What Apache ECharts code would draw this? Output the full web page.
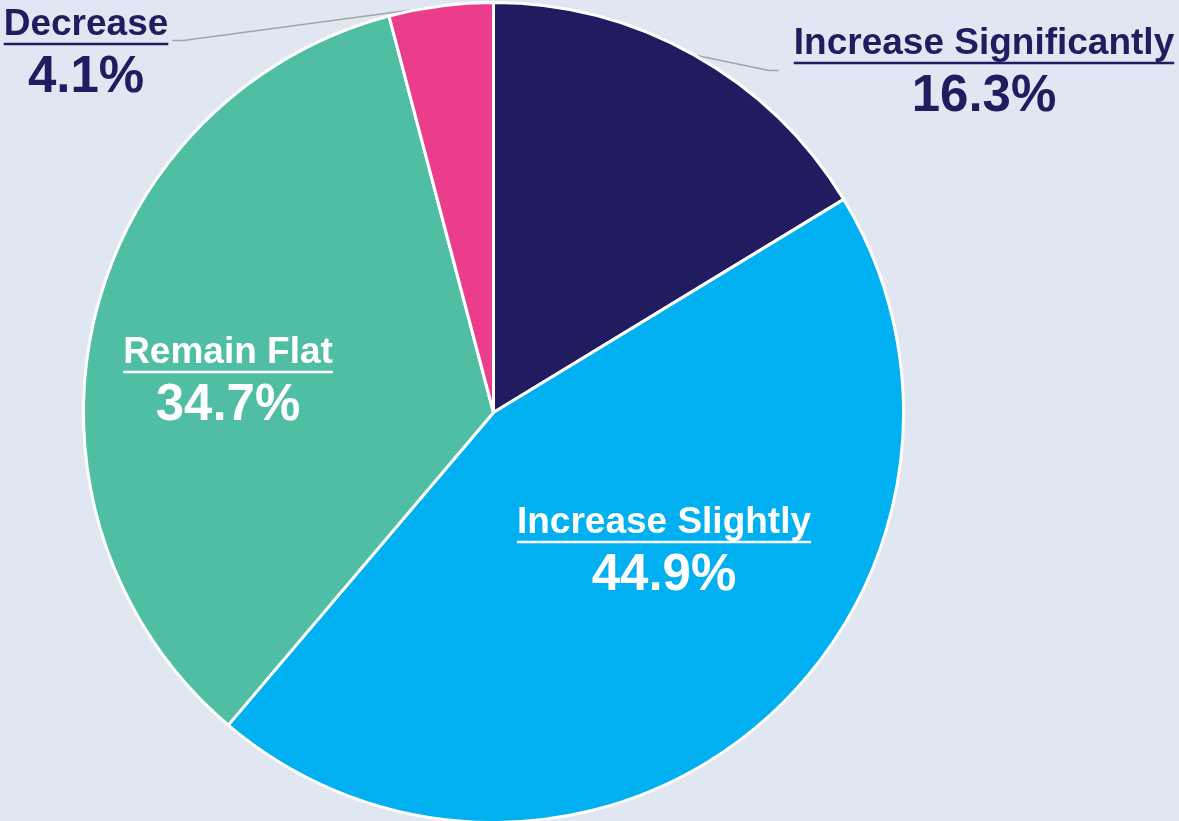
<!DOCTYPE html>
<html>
<head>
<meta charset="utf-8">
<script src="https://cdn.jsdelivr.net/npm/echarts@6/dist/echarts.min.js"></script>
<style>
  html, body { margin: 0; padding: 0; background: #e0e7f2; }
  #chart { width: 1179px; height: 821px; }
</style>
</head>
<body>
<div id="chart"></div>
<script>
const categories = ['Increase Significantly', 'Increase Slightly', 'Remain Flat', 'Decrease'];
const shares = [16.3, 44.9, 34.7, 4.1];
const sliceColors = ['#211b5f', '#00b0f0', '#4fbea4', '#ec3d8d'];
const insideLabel = [false, true, true, false];

// layout: label block centres (px), leader line end offsets
const labelCenters = [[984, 78], [664, 557], [228, 387], [86, 59]];
const lineDrop = [41, 0, 0, 30];
const lineGap = [15, 0, 0, 4];

const NAVY = '#211b5f';
const FONT = '"Liberation Sans", Arial, sans-serif';

const chart = echarts.init(document.getElementById('chart'));

function textStyles(suffix, color) {
  const s = {};
  s['n' + suffix] = { color: color, fontFamily: FONT, fontWeight: 'bold', fontSize: 37, lineHeight: 34, align: 'center' };
  s['h' + suffix] = { backgroundColor: color, width: '100%', height: 2.6, lineHeight: 4, align: 'left' };
  s['v' + suffix] = { color: color, fontFamily: FONT, fontWeight: 'bold', fontSize: 51, lineHeight: 64, align: 'center' };
  return s;
}

const option = {
  backgroundColor: '#e0e7f2',
  animation: false,
  series: [{
    type: 'pie',
    center: [493.5, 412.5],
    radius: 410,
    startAngle: 90,
    clockwise: true,
    avoidLabelOverlap: false,
    itemStyle: { borderColor: '#ffffff', borderWidth: 3 },
    label: {
      position: 'outside',
      formatter: function (p) {
        const k = insideLabel[p.dataIndex] ? 'w' : 'd';
        return '{n' + k + '|' + p.name + '}\n{h' + k + '|}\n{v' + k + '|' + p.value + '%}';
      },
      rich: Object.assign({}, textStyles('d', NAVY), textStyles('w', '#ffffff'))
    },
    labelLine: { show: true, lineStyle: { color: '#a3a3a3', width: 1.5 } },
    labelLayout: function (p) {
      const i = p.dataIndex;
      const c = labelCenters[i];
      const out = { x: c[0], y: c[1], align: 'center', verticalAlign: 'middle' };
      if (!insideLabel[i] && p.labelLinePoints) {
        const w = p.labelRect.width, h = p.labelRect.height;
        const start = p.labelLinePoints[0];
        const top = c[1] - h / 2;
        const ey = top + lineDrop[i];
        let ex, mx;
        if (start[0] > c[0]) {
          ex = c[0] + w / 2 + lineGap[i];
          mx = ex + 11;
        } else {
          ex = c[0] - w / 2 - lineGap[i];
          mx = ex - 10;
        }
        out.labelLinePoints = [start, [mx, ey], [ex, ey]];
      }
      return out;
    },
    data: categories.map(function (name, i) {
      return {
        name: name,
        value: shares[i],
        itemStyle: { color: sliceColors[i] },
        label: { position: insideLabel[i] ? 'inside' : 'outside' },
        labelLine: { show: !insideLabel[i] }
      };
    })
  }]
};

chart.setOption(option);
</script>
</body>
</html>
